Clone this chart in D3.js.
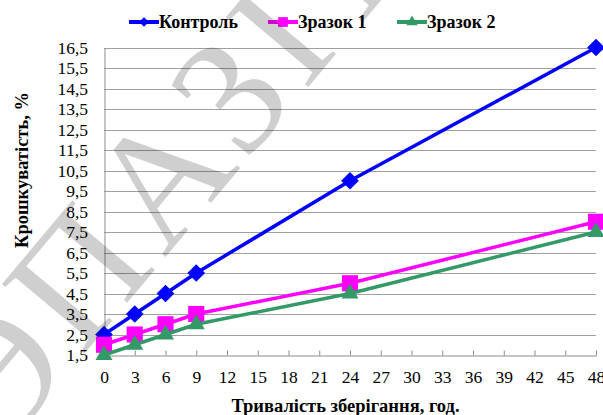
<!DOCTYPE html>
<html>
<head>
<meta charset="utf-8">
<script src="https://cdn.jsdelivr.net/npm/d3@7"></script>
<style>
  html, body { margin: 0; padding: 0; background: #fff; }
  svg { display: block; }
</style>
</head>
<body>
<svg id="chart" width="603" height="415"></svg>
<script>
// Storage time, hours
const hours = [0, 3, 6, 9, 24, 48];
// Crumbliness, %
const control = [2.5, 3.5, 4.5, 5.5, 10, 16.5];
const sample1 = [2, 2.5, 3, 3.5, 5, 8];
const sample2 = [1.5, 2, 2.5, 3, 4.5, 7.5];
const seriesNames = ["Контроль", "Зразок 1", "Зразок 2"];
const xTicks = d3.range(0, 49, 3);
const yTicks = d3.range(1.5, 16.6, 1);
const xTitle = "Тривалість зберігання, год.";
const yTitle = "Крошкуватість, %";
const watermark = "РЭПАЗІТАРЫЙ";

const SERIF = "'Liberation Serif'";
const fmt = v => d3.format(".1f")(v).replace(".", ",");

const svg = d3.select("#chart");
const W = 603, H = 415;
const m = { left: 104, right: 7, top: 47.5, bottom: 60 };

const x = d3.scaleLinear().domain([0, 48]).range([m.left, W - m.right]);
const y = d3.scaleLinear().domain([1.5, 16.5]).range([H - m.bottom, m.top]);

// horizontal gridlines
svg.append("g")
  .selectAll("line").data(yTicks.slice(1)).join("line")
  .attr("x1", x(0)).attr("x2", x(48))
  .attr("y1", d => Math.round(y(d)) + 0.5).attr("y2", d => Math.round(y(d)) + 0.5)
  .attr("stroke", "#a0a0a0").attr("stroke-width", 1);

// y axis: labels only, plus the vertical axis line
const yAxis = svg.append("g")
  .attr("transform", `translate(${x(0) + 0.5},0)`)
  .call(d3.axisLeft(y).tickValues(yTicks).tickFormat(fmt).tickSize(0).tickPadding(16.5));
yAxis.select(".domain").attr("stroke", "#8c8c8c");
yAxis.selectAll("text").style("font-family", SERIF).style("font-size", "17.5px").attr("fill", "#000");

// x axis with inward ticks
const xAxis = svg.append("g")
  .attr("transform", `translate(0,${Math.round(y(1.5)) + 0.5})`)
  .call(d3.axisBottom(x).tickValues(xTicks).tickFormat(d3.format("d")).tickSizeInner(-5).tickSizeOuter(0).tickPadding(15.5));
xAxis.select(".domain").attr("stroke", "#8c8c8c");
xAxis.selectAll(".tick line").attr("stroke", "#8c8c8c");
xAxis.selectAll("text").style("font-family", SERIF).style("font-size", "17.5px").attr("fill", "#000");

// axis titles
svg.append("text")
  .attr("x", 345.5).attr("y", 412)
  .attr("text-anchor", "middle")
  .style("font-family", SERIF).style("font-size", "18.5px").style("font-weight", "bold")
  .text(xTitle);
svg.append("text")
  .attr("transform", `translate(28,170) rotate(-90)`)
  .attr("text-anchor", "middle")
  .style("font-family", SERIF).style("font-size", "18.5px").style("font-weight", "bold")
  .text(yTitle);

// series
const series = [
  { name: seriesNames[0], values: control, color: "#0000ff", symbol: d3.symbolDiamond2, size: 200 },
  { name: seriesNames[1], values: sample1, color: "#ff00ff", symbol: d3.symbolSquare, size: 260 },
  { name: seriesNames[2], values: sample2, color: "#339966", symbol: d3.symbolTriangle, size: 125 }
];

const line = d3.line().x((d, i) => x(hours[i])).y(d => y(d));

series.forEach(s => {
  const g = svg.append("g");
  g.append("path")
    .attr("d", line(s.values))
    .attr("fill", "none").attr("stroke", s.color).attr("stroke-width", 3.5)
    .attr("stroke-linejoin", "round");
  g.selectAll("path.mk").data(s.values).join("path")
    .attr("class", "mk")
    .attr("transform", (d, i) => `translate(${x(hours[i])},${y(d)})`)
    .attr("d", d3.symbol().type(s.symbol).size(s.size))
    .attr("fill", s.color);
});

// legend
const legendX = [129, 268, 397];
const legendMarker = [60, 95, 55];
series.forEach((s, i) => {
  const g = svg.append("g").attr("transform", `translate(${legendX[i]},22)`);
  g.append("line").attr("x1", 0).attr("x2", 30).attr("y1", 0).attr("y2", 0)
    .attr("stroke", s.color).attr("stroke-width", 4);
  g.append("path").attr("transform", "translate(15,0)")
    .attr("d", d3.symbol().type(s.symbol).size(legendMarker[i]))
    .attr("fill", s.color);
  g.append("text").attr("x", 30).attr("y", 6)
    .style("font-family", SERIF).style("font-size", "18px").style("font-weight", "bold")
    .text(s.name);
});

// diagonal repository watermark, positioned by the centre of its fifth letter
const wmSize = 165, wmAngle = -50;
const wm = svg.append("text")
  .style("font-family", SERIF).style("font-size", wmSize + "px")
  .style("letter-spacing", "10px")
  .attr("fill", "#000").attr("fill-opacity", 0.19)
  .attr("pointer-events", "none")
  .text(watermark);
const node = wm.node();
const pre = node.getSubStringLength(0, 4);
const wZ = node.getSubStringLength(4, 1);
const cx = pre + wZ / 2, cy = -0.33 * wmSize;
const a = wmAngle * Math.PI / 180;
const rx = cx * Math.cos(a) - cy * Math.sin(a);
const ry = cx * Math.sin(a) + cy * Math.cos(a);
const anchor = [233, 92];
wm.attr("transform", `translate(${anchor[0] - rx},${anchor[1] - ry}) rotate(${wmAngle})`);
</script>
</body>
</html>
